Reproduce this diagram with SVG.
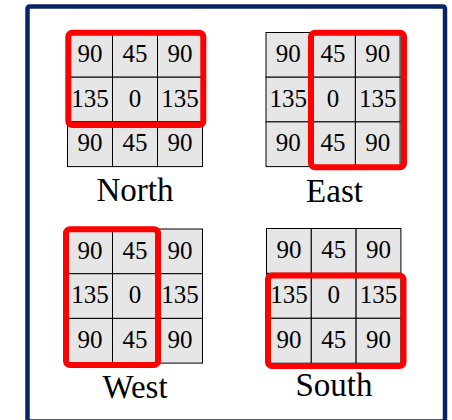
<svg xmlns="http://www.w3.org/2000/svg" width="452" height="420" viewBox="0 0 452 420">
<style>
.cell{fill:#e6e6e6;stroke:#000;stroke-width:1}
.num{font-family:"Liberation Serif","Times New Roman",serif;font-size:25px;text-anchor:middle;fill:#000}
.lbl{font-family:"Liberation Serif","Times New Roman",serif;font-size:33px;text-anchor:middle;fill:#000}
.sel{fill:none;stroke:#ff0000;stroke-width:6;stroke-linejoin:round}
</style>
<rect x="27.5" y="6.5" width="417.5" height="415" rx="2" fill="#fff" stroke="#0a2463" stroke-width="4.5"/>

<g id="north">
<g transform="translate(67.5,32.5)">
<rect class="cell" x="0" y="0" width="45" height="44.7"/><rect class="cell" x="45" y="0" width="45" height="44.7"/><rect class="cell" x="90" y="0" width="45" height="44.7"/>
<rect class="cell" x="0" y="44.7" width="45" height="44.7"/><rect class="cell" x="45" y="44.7" width="45" height="44.7"/><rect class="cell" x="90" y="44.7" width="45" height="44.7"/>
<rect class="cell" x="0" y="89.4" width="45" height="44.7"/><rect class="cell" x="45" y="89.4" width="45" height="44.7"/><rect class="cell" x="90" y="89.4" width="45" height="44.7"/>
<text class="num" x="22.5" y="29.5">90</text><text class="num" x="67.5" y="29.5">45</text><text class="num" x="112.5" y="29.5">90</text>
<text class="num" x="22.5" y="74.2">135</text><text class="num" x="67.5" y="74.2">0</text><text class="num" x="112.5" y="74.2">135</text>
<text class="num" x="22.5" y="118.9">90</text><text class="num" x="67.5" y="118.9">45</text><text class="num" x="112.5" y="118.9">90</text>
</g>
<rect class="sel" x="68.3" y="32.7" width="135" height="92.3" rx="4"/>
<text class="lbl" x="135" y="201">North</text>
</g>

<g id="east">
<g transform="translate(266,32.5)">
<rect class="cell" x="0" y="0" width="44.7" height="44.7"/><rect class="cell" x="44.7" y="0" width="44.7" height="44.7"/><rect class="cell" x="89.4" y="0" width="44.7" height="44.7"/>
<rect class="cell" x="0" y="44.7" width="44.7" height="44.7"/><rect class="cell" x="44.7" y="44.7" width="44.7" height="44.7"/><rect class="cell" x="89.4" y="44.7" width="44.7" height="44.7"/>
<rect class="cell" x="0" y="89.4" width="44.7" height="44.7"/><rect class="cell" x="44.7" y="89.4" width="44.7" height="44.7"/><rect class="cell" x="89.4" y="89.4" width="44.7" height="44.7"/>
<text class="num" x="22.35" y="29.5">90</text><text class="num" x="67" y="29.5">45</text><text class="num" x="111.7" y="29.5">90</text>
<text class="num" x="22.35" y="74.2">135</text><text class="num" x="67" y="74.2">0</text><text class="num" x="111.7" y="74.2">135</text>
<text class="num" x="22.35" y="118.9">90</text><text class="num" x="67" y="118.9">45</text><text class="num" x="111.7" y="118.9">90</text>
</g>
<rect class="sel" x="311" y="32.7" width="93" height="134.6" rx="4"/>
<text class="lbl" x="334.5" y="201.5">East</text>
</g>

<g id="west">
<g transform="translate(67.5,229)">
<rect class="cell" x="0" y="0" width="45" height="44.7"/><rect class="cell" x="45" y="0" width="45" height="44.7"/><rect class="cell" x="90" y="0" width="45" height="44.7"/>
<rect class="cell" x="0" y="44.7" width="45" height="44.7"/><rect class="cell" x="45" y="44.7" width="45" height="44.7"/><rect class="cell" x="90" y="44.7" width="45" height="44.7"/>
<rect class="cell" x="0" y="89.4" width="45" height="44.7"/><rect class="cell" x="45" y="89.4" width="45" height="44.7"/><rect class="cell" x="90" y="89.4" width="45" height="44.7"/>
<text class="num" x="22.5" y="29.5">90</text><text class="num" x="67.5" y="29.5">45</text><text class="num" x="112.5" y="29.5">90</text>
<text class="num" x="22.5" y="74.2">135</text><text class="num" x="67.5" y="74.2">0</text><text class="num" x="112.5" y="74.2">135</text>
<text class="num" x="22.5" y="118.9">90</text><text class="num" x="67.5" y="118.9">45</text><text class="num" x="112.5" y="118.9">90</text>
</g>
<rect class="sel" x="66" y="229.3" width="92" height="135.7" rx="4"/>
<text class="lbl" x="135" y="398">West</text>
</g>

<g id="south">
<g transform="translate(266.5,228.5)">
<rect class="cell" x="0" y="0" width="44.8" height="44.9"/><rect class="cell" x="44.8" y="0" width="44.8" height="44.9"/><rect class="cell" x="89.6" y="0" width="44.8" height="44.9"/>
<rect class="cell" x="0" y="44.9" width="44.8" height="44.9"/><rect class="cell" x="44.8" y="44.9" width="44.8" height="44.9"/><rect class="cell" x="89.6" y="44.9" width="44.8" height="44.9"/>
<rect class="cell" x="0" y="89.8" width="44.8" height="44.9"/><rect class="cell" x="44.8" y="89.8" width="44.8" height="44.9"/><rect class="cell" x="89.6" y="89.8" width="44.8" height="44.9"/>
<text class="num" x="22.4" y="29.7">90</text><text class="num" x="67.2" y="29.7">45</text><text class="num" x="112" y="29.7">90</text>
<text class="num" x="22.4" y="74.6">135</text><text class="num" x="67.2" y="74.6">0</text><text class="num" x="112" y="74.6">135</text>
<text class="num" x="22.4" y="119.5">90</text><text class="num" x="67.2" y="119.5">45</text><text class="num" x="112" y="119.5">90</text>
</g>
<rect class="sel" x="268" y="275.5" width="135.5" height="90.5" rx="4"/>
<text class="lbl" x="334" y="396">South</text>
</g>

<g id="connectors"/>
</svg>
